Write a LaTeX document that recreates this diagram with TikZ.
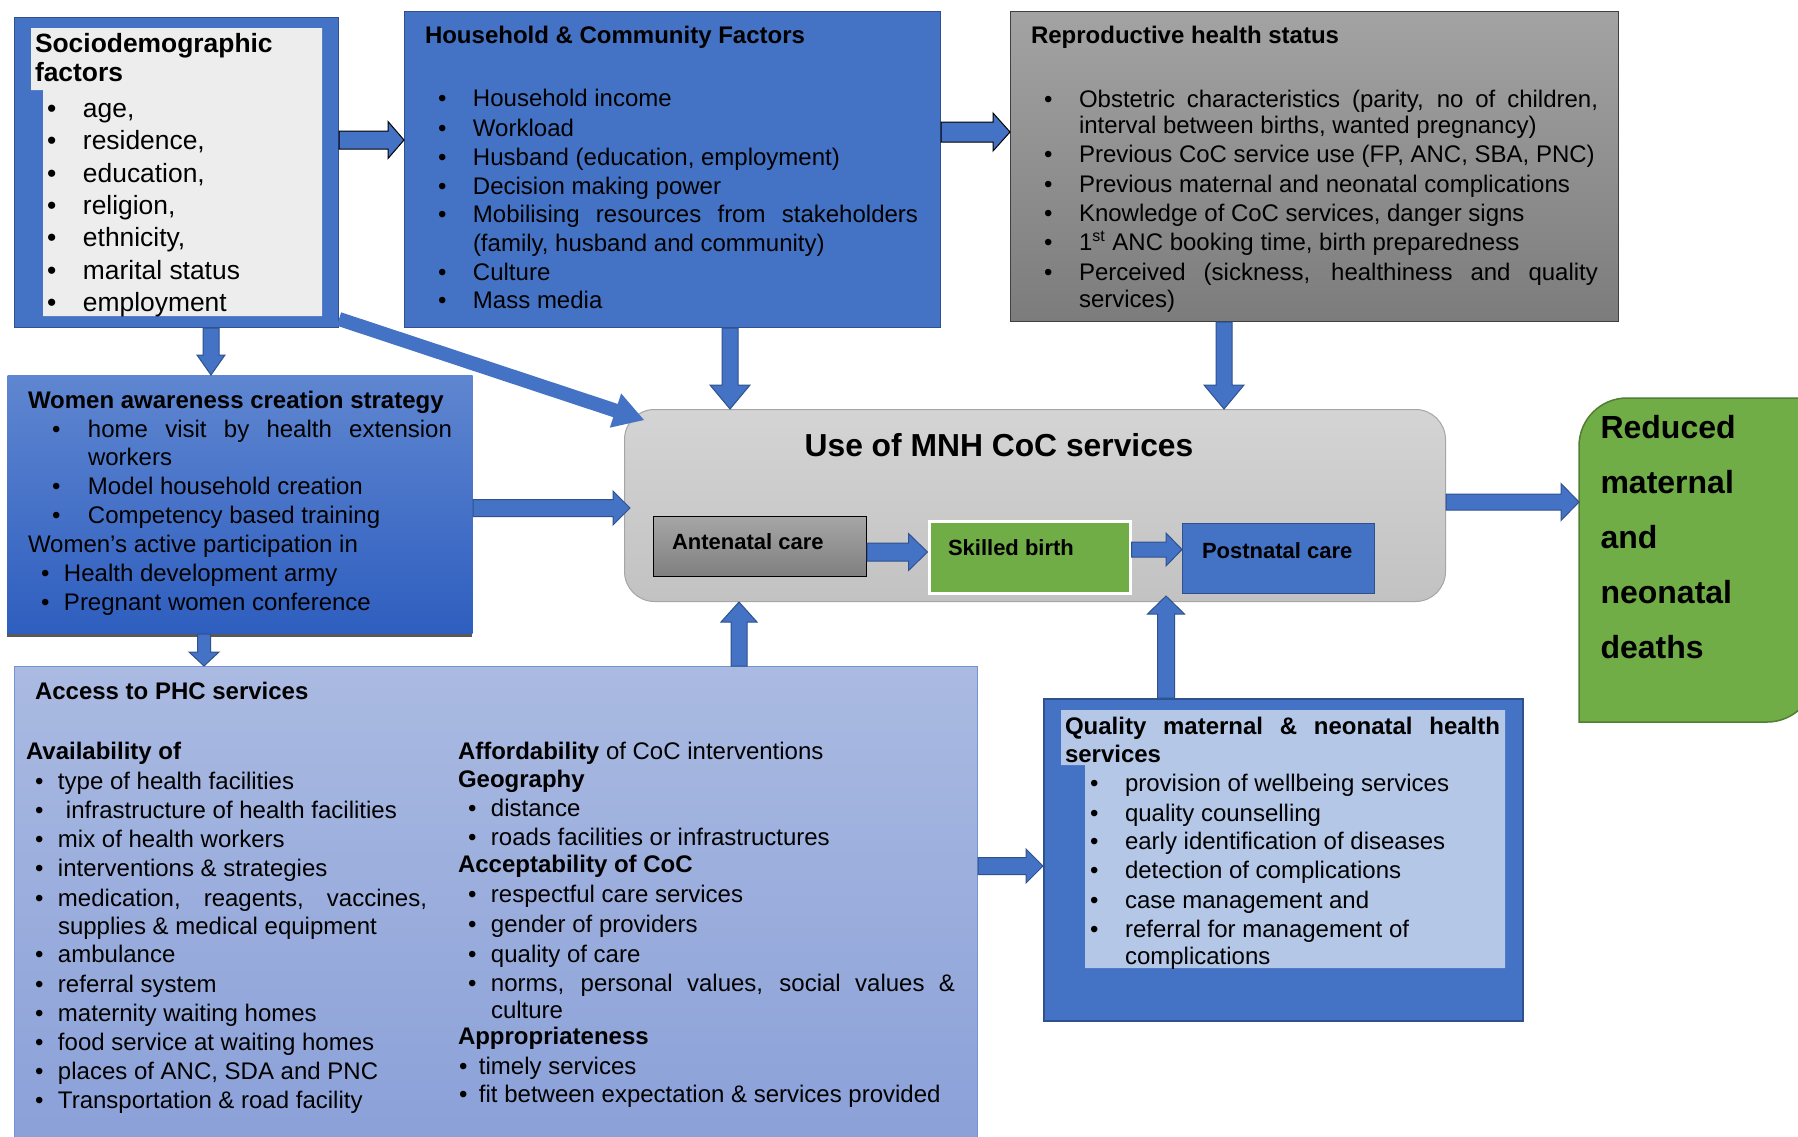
\documentclass[tikz,border=0pt]{standalone}
\usepackage{fontspec}
\setmainfont{Liberation Sans}
\usetikzlibrary{calc}
\definecolor{bfill}{HTML}{4472C4}
\definecolor{bline}{HTML}{2F528F}
\definecolor{socin}{HTML}{EDEDED}
\definecolor{qin}{HTML}{B4C7E7}
\definecolor{gfill}{HTML}{70AD47}
\definecolor{gline}{HTML}{507E32}
\definecolor{reptop}{HTML}{A3A3A3}
\definecolor{repbot}{HTML}{7C7C7C}
\definecolor{womtop}{HTML}{5F86D0}
\definecolor{wombot}{HTML}{2E5EBF}
\definecolor{womsh}{HTML}{595959}
\definecolor{centop}{HTML}{D4D4D4}
\definecolor{cenbot}{HTML}{C2C2C2}
\definecolor{cenline}{HTML}{A6A6A6}
\definecolor{anctop}{HTML}{A6A6A6}
\definecolor{ancbot}{HTML}{7F7F7F}
\definecolor{acctop}{HTML}{AABAE1}
\definecolor{accbot}{HTML}{8AA0D8}
\definecolor{accline}{HTML}{7594D4}
\newcommand\bu[1]{\makebox[#1][l]{\textbullet}}
\newcommand\jb[2]{\makebox[#1][s]{#2}}
% block arrow from #2 to #3: half shaft #4, half head #5, head length #6
\newcommand\barrow[6][]{%
  \path let \p1=#2, \p2=#3 in \pgfextra{%
    \pgfmathsetmacro\barang{atan2((\y2)-(\y1),(\x2)-(\x1))}%
    \pgfmathsetmacro\barlen{veclen((\x2)-(\x1),(\y2)-(\y1))}%
    \xdef\barang{\barang}\xdef\barlen{\barlen}};
  \begin{scope}[shift={#2},rotate=\barang]
    \filldraw[barrow,#1] (0pt,-#4) -- ({\barlen pt-#6},-#4) -- ({\barlen pt-#6},-#5)
      -- (\barlen pt,0pt) -- ({\barlen pt-#6},#5) -- ({\barlen pt-#6},#4) -- (0pt,#4) -- cycle;
  \end{scope}}
\begin{document}
\begin{tikzpicture}[x=0.5pt,y=-0.5pt,
  tl/.style={anchor=base west, inner sep=0pt, outer sep=0pt, font=\fontsize{12}{14}\selectfont},
  tb/.style={tl, font=\fontsize{12}{14}\selectfont\bfseries},
  ts/.style={tl, font=\fontsize{13.2}{15}\selectfont},
  tsb/.style={tl, font=\fontsize{13.2}{15}\selectfont\bfseries},
  tc/.style={tl, font=\fontsize{11}{13}\selectfont\bfseries},
  tr/.style={tl, font=\fontsize{16}{18}\selectfont\bfseries},
  bx/.style={rectangle, inner sep=0pt, anchor=north west, line width=0.5pt},
  barrow/.style={fill=bfill, draw=bline, line width=0.5pt, line join=miter}]
\useasboundingbox (0,0) rectangle (1798,1136);
\fill[white] (0,0) rectangle (1798,1136);

% ---------- Sociodemographic ----------
\node[bx, fill=bfill, draw=bline, minimum width=162pt, minimum height=155pt] (soc) at (14,17) {};
\fill[socin] (31,28) -- (322,28) -- (322,316) -- (43,316) -- (43,90) -- (31,90) -- cycle;
\node[tsb] (soct1) at (35,52.7) {Sociodemographic};
\node[tsb] (soct2) at (35,81.7) {factors};
\node[ts] (soc1) at (47,117.5) {\bu{18pt}age,};
\node[ts] (soc2) at (47,149.8) {\bu{18pt}residence,};
\node[ts] (soc3) at (47,182.1) {\bu{18pt}education,};
\node[ts] (soc4) at (47,214.4) {\bu{18pt}religion,};
\node[ts] (soc5) at (47,246.7) {\bu{18pt}ethnicity,};
\node[ts] (soc6) at (47,279) {\bu{18pt}marital status};
\node[ts] (soc7) at (47,311.3) {\bu{18pt}employment};

% ---------- Household ----------
\node[bx, fill=bfill, draw=bline, minimum width=268pt, minimum height=158pt] (hh) at (404,11) {};
\node[tb] (hht) at (425,43.5) {Household \& Community Factors};
\node[tl] (hh1) at (438,106) {\bu{17.5pt}Household income};
\node[tl] (hh2) at (438,136) {\bu{17.5pt}Workload};
\node[tl] (hh3) at (438,165) {\bu{17.5pt}Husband (education, employment)};
\node[tl] (hh4) at (438,194) {\bu{17.5pt}Decision making power};
\node[tl] (hh5) at (438,222) {\bu{17.5pt}\jb{222.5pt}{Mobilising resources from stakeholders}};
\node[tl] (hh5b) at (473,251) {(family, husband and community)};
\node[tl] (hh6) at (438,280) {\bu{17.5pt}Culture};
\node[tl] (hh7) at (438,308) {\bu{17.5pt}Mass media};

% ---------- Reproductive ----------
\node[bx, top color=reptop, bottom color=repbot, draw=black!75, minimum width=304pt, minimum height=155pt] (rep) at (1010,11) {};
\node[tb] (rept) at (1031,43.5) {Reproductive health status};
\node[tl] (rep1) at (1044,107) {\bu{17.5pt}\jb{259.5pt}{Obstetric characteristics (parity, no of children,}};
\node[tl] (rep1b) at (1079,133) {interval between births, wanted pregnancy)};
\node[tl] (rep2) at (1044,162) {\bu{17.5pt}Previous CoC service use (FP, ANC, SBA, PNC)};
\node[tl] (rep3) at (1044,192) {\bu{17.5pt}Previous maternal and neonatal complications};
\node[tl] (rep4) at (1044,221) {\bu{17.5pt}Knowledge of CoC services, danger signs};
\node[tl] (rep5) at (1044,250) {\bu{17.5pt}1\textsuperscript{st} ANC booking time, birth preparedness};
\node[tl] (rep6) at (1044,280) {\bu{17.5pt}\jb{259.5pt}{Perceived (sickness, healthiness and quality}};
\node[tl] (rep6b) at (1079,307) {services)};

% ---------- Women awareness ----------
\fill[womsh] (7,379) rectangle (472,637);
\node[bx, top color=womtop, bottom color=wombot, minimum width=232.5pt, minimum height=129pt] (wom) at (7,375) {};
\node[tb] (womt) at (28,408) {Women awareness creation strategy};
\node[tl] (wom1) at (52,437) {\bu{18pt}\jb{182pt}{home visit by health extension}};
\node[tl] (wom1b) at (88,465) {workers};
\node[tl] (wom2) at (52,494) {\bu{18pt}Model household creation};
\node[tl] (wom3) at (52,523) {\bu{18pt}Competency based training};
\node[tl] (womp) at (28,552) {Women’s active participation in};
\node[tl] (wom4) at (41,581) {\bu{11.5pt}Health development army};
\node[tl] (wom5) at (41,610) {\bu{11.5pt}Pregnant women conference};

% ---------- Use of MNH CoC services ----------
\node[bx, top color=centop, bottom color=cenbot, draw=cenline, rounded corners=15pt, minimum width=410.5pt, minimum height=96pt] (cen) at (624,409) {};
\node[anchor=base, inner sep=0pt, font=\fontsize{15.9}{18}\selectfont\bfseries] (cent) at (999,456.5) {Use of MNH CoC services};
\node[bx, top color=anctop, bottom color=ancbot, draw=black, minimum width=106.5pt, minimum height=30pt] (anc) at (653,516) {};
\node[tc] (anct) at (672,549) {Antenatal care};
\node[bx, fill=gfill, draw=white, line width=1.5pt, minimum width=100.5pt, minimum height=36pt] (skb) at (927.5,519.5) {};
\node[tc] (skbt) at (948,555) {Skilled birth};
\node[bx, fill=bfill, draw=bline, minimum width=96pt, minimum height=35pt] (pnc) at (1182,523) {};
\node[tc] (pnct) at (1202,558) {Postnatal care};

% ---------- Reduced deaths ----------
\draw[fill=gfill, draw=gline, line width=0.75pt] (1579,722) -- (1579,446)
  .. controls (1579,419.5) and (1600.5,398) .. (1627,398) -- (1815,398) -- (1815,674)
  .. controls (1815,700.5) and (1793.5,722) .. (1767,722) -- cycle;
\coordinate (redw) at (1579,560);
\node[tr] (red1) at (1600.5,438.5) {Reduced};
\node[tr] (red2) at (1600.5,493.5) {maternal};
\node[tr] (red3) at (1600.5,548.5) {and};
\node[tr] (red4) at (1600.5,603.5) {neonatal};
\node[tr] (red5) at (1600.5,658.5) {deaths};

% ---------- Access to PHC ----------
\node[bx, top color=acctop, bottom color=accbot, draw=accline, minimum width=481.5pt, minimum height=239.5pt] (acc) at (14,666) {};
\node[tb] (acct) at (35,699) {Access to PHC services};
\node[tb] (avt) at (26,759) {Availability of};
\node[tl] (av1) at (35,789) {\bu{11.5pt}type of health facilities};
\node[tl] (av2) at (35,818) {\bu{11.5pt}\hspace{4pt}infrastructure of health facilities};
\node[tl] (av3) at (35,847) {\bu{11.5pt}mix of health workers};
\node[tl] (av4) at (35,876) {\bu{11.5pt}interventions \& strategies};
\node[tl] (av5) at (35,906) {\bu{11.5pt}\jb{184.5pt}{medication, reagents, vaccines,}};
\node[tl] (av5b) at (58,934) {supplies \& medical equipment};
\node[tl] (av6) at (35,962) {\bu{11.5pt}ambulance};
\node[tl] (av7) at (35,992) {\bu{11.5pt}referral system};
\node[tl] (av8) at (35,1021) {\bu{11.5pt}maternity waiting homes};
\node[tl] (av9) at (35,1050) {\bu{11.5pt}food service at waiting homes};
\node[tl] (av10) at (35,1079) {\bu{11.5pt}places of ANC, SDA and PNC};
\node[tl] (av11) at (35,1108) {\bu{11.5pt}Transportation \& road facility};
\node[tl] (aff) at (458,759) {\textbf{Affordability} of CoC interventions};
\node[tb] (geo) at (458,787) {Geography};
\node[tl] (geo1) at (468,816) {\bu{11.5pt}distance};
\node[tl] (geo2) at (468,845) {\bu{11.5pt}roads facilities or infrastructures};
\node[tb] (acp) at (458,872) {Acceptability of CoC};
\node[tl] (acp1) at (468,902) {\bu{11.5pt}respectful care services};
\node[tl] (acp2) at (468,932) {\bu{11.5pt}gender of providers};
\node[tl] (acp3) at (468,962) {\bu{11.5pt}quality of care};
\node[tl] (acp4) at (468,991) {\bu{11.5pt}\jb{232pt}{norms, personal values, social values \&}};
\node[tl] (acp4b) at (491,1018) {culture};
\node[tb] (app) at (458,1044) {Appropriateness};
\node[tl] (app1) at (459,1074) {\bu{10pt}timely services};
\node[tl] (app2) at (459,1102) {\bu{10pt}fit between expectation \& services provided};

% ---------- Quality MNH services ----------
\node[bx, fill=bfill, draw=bline, line width=1pt, minimum width=239.5pt, minimum height=161pt] (qua) at (1043,698) {};
\fill[qin] (1061,710) -- (1505,710) -- (1505,968) -- (1085,968) -- (1085,765) -- (1061,765) -- cycle;
\node[tb] (quat1) at (1065,734) {\jb{217.5pt}{Quality maternal \& neonatal health}};
\node[tb] (quat2) at (1065,762) {services};
\node[tl] (qua1) at (1090,791) {\bu{17.5pt}provision of wellbeing services};
\node[tl] (qua2) at (1090,821) {\bu{17.5pt}quality counselling};
\node[tl] (qua3) at (1090,849) {\bu{17.5pt}early identification of diseases};
\node[tl] (qua4) at (1090,878) {\bu{17.5pt}detection of complications};
\node[tl] (qua5) at (1090,908) {\bu{17.5pt}case management and};
\node[tl] (qua6) at (1090,937) {\bu{17.5pt}referral for management of};
\node[tl] (qua6b) at (1125,964) {complications};

% ---------- Block arrows ----------
\barrow[draw=black]{(soc.east |- 0,140)}{(hh.west |- 0,140)}{4.5pt}{9.25pt}{8pt}
\barrow[draw=black]{(hh.east |- 0,132)}{(rep.west |- 0,132)}{5pt}{9.5pt}{8.5pt}
\barrow{(soc.south -| 211,0)}{(wom.north -| 211,0)}{4pt}{7pt}{10pt}
\barrow[draw=none]{([yshift=4.5pt]soc.south east)}{([xshift=10pt,yshift=-5.5pt]cen.north west)}{3.5pt}{9pt}{15pt}
\barrow{(hh.south -| 730,0)}{(cen.north -| 730,0)}{4pt}{10pt}{12pt}
\barrow{(rep.south -| 1224,0)}{(cen.north -| 1224,0)}{4pt}{10pt}{12pt}
\barrow{(wom.east |- 0,508)}{([xshift=3pt]cen.west |- 0,508)}{4.25pt}{8.5pt}{8.5pt}
\barrow{(wom.south -| 204,0)}{(acc.north -| 204,0)}{3.25pt}{7.5pt}{7pt}
\barrow{(acc.north -| 739,0)}{(cen.south -| 739,0)}{4pt}{9pt}{10pt}
\barrow{(qua.north -| 1166,0)}{([yshift=3pt]cen.south -| 1166,0)}{4.25pt}{9.25pt}{9pt}
\barrow{(acc.east |- 0,866)}{(qua.west |- 0,866)}{4.25pt}{8.5pt}{8.5pt}
\barrow{(cen.east |- 0,502)}{(redw |- 0,502)}{4pt}{9.25pt}{9pt}
\barrow{(anc.east |- 0,552)}{(skb.west |- 0,552)}{4.5pt}{9.25pt}{9.5pt}
\barrow{(skb.east |- 0,549.5)}{(pnc.west |- 0,549.5)}{3.75pt}{8.25pt}{8pt}
\end{tikzpicture}
\end{document}
